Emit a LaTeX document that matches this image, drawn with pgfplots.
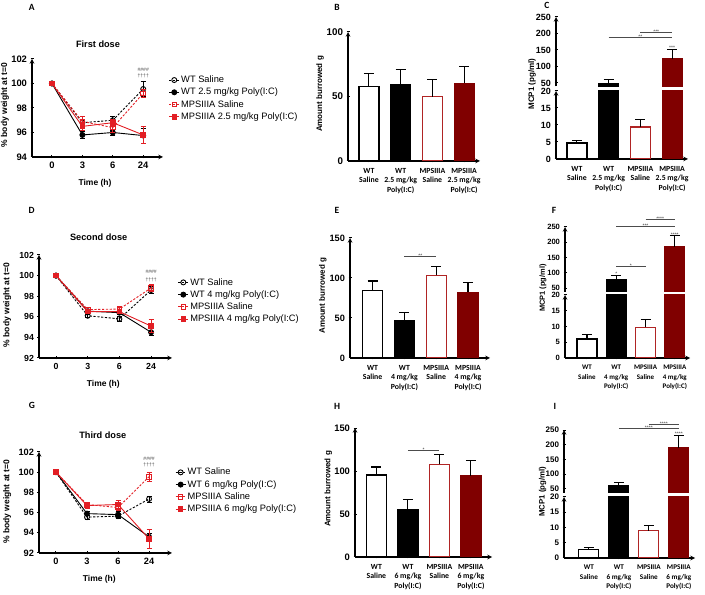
\documentclass[border=0pt]{standalone}
\usepackage{fontspec}
\setmainfont{Liberation Sans}
\newfontfamily\calfont{Carlito}
\usepackage{pgfplots}
\pgfplotsset{compat=1.18}

\definecolor{linered}{RGB}{226,30,36}
\definecolor{mpsdark}{RGB}{128,0,0}
\definecolor{mpsedge}{RGB}{176,36,36}

\pgfplotsset{
  base/.style={
    scale only axis, anchor=south west, clip mode=individual,
    axis line style={-, line width=1.1pt, black},
    tick style={line width=1pt, black},
    tick align=outside, major tick length=3pt,
    tick label style={font=\fontsize{9}{10}\selectfont\bfseries},
    /pgf/number format/assume math mode=true,
    enlargelimits=false,
  },
  tickfont/.style={tick label style={font=\fontsize{#1}{10}\selectfont\bfseries}},
  catfont/.style={xticklabel style={font=\calfont\bfseries\fontsize{#1}{9.6}\selectfont}},
  course/.style={base, axis lines=left,
    xtick={0,1,2,3}, xticklabels={0,3,6,24}, ytick distance=2,
    legend cell align=left,
    legend style={draw=none, fill=none, anchor=north west,
      font=\fontsize{9.3}{10}\selectfont, row sep=1.0pt,
      nodes={inner sep=1.5pt}},
    legend image code/.code={\draw[mark repeat=2, mark phase=2]
      plot coordinates {(0pt,0pt) (5pt,0pt) (10pt,0pt)};},
  },
  grp/.style={base, ybar, bar width=20pt, bar shift=0pt,
    xtick={1,2,3,4},
    xticklabel style={align=center, yshift=-2pt,
      font=\calfont\bfseries\fontsize{7.8}{9.6}\selectfont},
  },
  grplow/.style={grp, axis lines=left},
  grpup/.style={grp, axis y line=left, axis x line=none, xtick=\empty},
  lineerr/.style={/pgfplots/error bars/y dir=both, /pgfplots/error bars/y explicit,
    /pgfplots/error bars/error bar style={solid, line width=0.8pt},
    /pgfplots/error bars/error mark options={rotate=90, mark size=2.5pt, solid, line width=0.8pt}},
  barerr/.style={/pgfplots/error bars/y dir=plus, /pgfplots/error bars/y explicit,
    /pgfplots/error bars/error bar style={line width=1.1pt, black},
    /pgfplots/error bars/error mark options={rotate=90, mark size=5pt, line width=1.1pt, black}},
  wtsal/.style={black, line width=0.9pt, dash pattern=on 2.2pt off 1.6pt,
    mark=o, mark size=2.5pt, mark options={solid, fill=white}, lineerr},
  wtdose/.style={black, line width=0.9pt, mark=*, mark size=2.5pt, lineerr},
  mpssal/.style={linered, line width=0.9pt, dash pattern=on 2.2pt off 1.6pt,
    mark=square, mark size=2.3pt, mark options={solid, fill=white}, lineerr},
  mpsdose/.style={linered, line width=0.9pt, mark=square*, mark size=2.3pt, lineerr},
  bwt/.style={fill=white, draw=black, line width=1.2pt, barerr},
  bwtd/.style={fill=black, draw=black, line width=1.2pt, barerr},
  bms/.style={fill=white, draw=mpsedge, line width=1.2pt, barerr},
  bmsd/.style={fill=mpsdark, draw=mpsdark, line width=1.2pt, barerr},
}
\tikzset{
  sig/.style={font=\fontsize{5}{5}\selectfont, anchor=base, yshift=-1.2pt, inner sep=0pt, black!80},
  lab/.style={font=\fontsize{5}{5}\selectfont, anchor=base, yshift=-3pt, inner sep=0pt, black!80},
  bar line/.style={line width=0.6pt, black!70},
  hash/.style={font=\fontsize{5}{5}\selectfont, inner sep=0pt, black!70},
  letter/.style={font=\calfont\bfseries\fontsize{9.5}{10}\selectfont},
  atitle/.style={font=\fontsize{9.2}{10}\selectfont\bfseries},
  alabel/.style={font=\fontsize{8.5}{10}\selectfont\bfseries},
}

\begin{document}
\begin{tikzpicture}
\path[use as bounding box] (0pt,0pt) rectangle (705pt,595pt);

% ---------- Body weight, first dose ----------
\begin{axis}[course, tickfont=9.4, at={(32pt,438pt)}, width=131pt, height=98pt,
  xmin=-0.656, xmax=3.65, ymin=94, ymax=102,
  legend style={at={(1.02,0.865)}}]
\addplot[wtsal] coordinates {(0,100) +- (0,0) (1,96.8) +- (0,0.25) (2,97.0) +- (0,0.35) (3,99.55) +- (0,0.6)};
\addlegendentry{WT Saline}
\addplot[wtdose] coordinates {(0,100) +- (0,0) (1,95.8) +- (0,0.3) (2,96.0) +- (0,0.2) (3,95.75) +- (0,0.6)};
\addlegendentry{WT 2.5 mg/kg Poly(I:C)}
\addplot[mpssal] coordinates {(0,100) +- (0,0) (1,96.9) +- (0,0.4) (2,96.4) +- (0,0.4) (3,99.2) +- (0,0.35)};
\addlegendentry{MPSIIIA Saline}
\addplot[mpsdose] coordinates {(0,100) +- (0,0) (1,96.5) +- (0,0.35) (2,96.8) +- (0,0.3) (3,95.8) +- (0,0.7)};
\addlegendentry{MPSIIIA 2.5 mg/kg Poly(I:C)}
\node[hash] at (axis cs:3,101.15) {\#\#\#\#};
\node[hash] at (axis cs:3,100.65) {\textdagger\textdagger\textdagger\textdagger};
\end{axis}

% ---------- Body weight, second dose ----------
\begin{axis}[course, tickfont=8.8, at={(39pt,237pt)}, width=133pt, height=103pt,
  xmin=-0.537, xmax=3.66, ymin=92, ymax=102,
  legend style={at={(1.02,0.81)}}]
\addplot[wtsal] coordinates {(0,100) +- (0,0) (1,96.1) +- (0,0.15) (2,95.8) +- (0,0.2) (3,98.6) +- (0,0.35)};
\addlegendentry{WT Saline}
\addplot[wtdose] coordinates {(0,100) +- (0,0) (1,96.55) +- (0,0.2) (2,96.4) +- (0,0.2) (3,94.5) +- (0,0.35)};
\addlegendentry{WT 4 mg/kg Poly(I:C)}
\addplot[mpssal] coordinates {(0,100) +- (0,0) (1,96.7) +- (0,0.2) (2,96.75) +- (0,0.15) (3,98.8) +- (0,0.3)};
\addlegendentry{MPSIIIA Saline}
\addplot[mpsdose] coordinates {(0,100) +- (0,0) (1,96.5) +- (0,0.2) (2,96.5) +- (0,0.2) (3,95.1) +- (0,0.6)};
\addlegendentry{MPSIIIA 4 mg/kg Poly(I:C)}
\node[hash] at (axis cs:3,100.4) {\#\#\#\#};
\node[hash] at (axis cs:3,99.55) {\textdagger\textdagger\textdagger\textdagger};
\end{axis}

% ---------- Body weight, third dose ----------
\begin{axis}[course, tickfont=9.2, at={(39pt,42pt)}, width=133pt, height=101pt,
  xmin=-0.548, xmax=3.74, ymin=92, ymax=102,
  legend style={at={(1.0,0.876)}}]
\addplot[wtsal] coordinates {(0,100) +- (0,0) (1,95.55) +- (0,0.2) (2,95.65) +- (0,0.25) (3,97.35) +- (0,0.3)};
\addlegendentry{WT Saline}
\addplot[wtdose] coordinates {(0,100) +- (0,0) (1,95.9) +- (0,0.2) (2,95.8) +- (0,0.3) (3,93.6) +- (0,0.35)};
\addlegendentry{WT 6 mg/kg Poly(I:C)}
\addplot[mpssal] coordinates {(0,100) +- (0,0) (1,96.8) +- (0,0.2) (2,96.5) +- (0,0.25) (3,99.55) +- (0,0.45)};
\addlegendentry{MPSIIIA Saline}
\addplot[mpsdose] coordinates {(0,100) +- (0,0) (1,96.7) +- (0,0.25) (2,96.8) +- (0,0.4) (3,93.4) +- (0,0.9)};
\addlegendentry{MPSIIIA 6 mg/kg Poly(I:C)}
\node[hash] at (axis cs:3,101.3) {\#\#\#\#};
\node[hash] at (axis cs:3,100.7) {\textdagger\textdagger\textdagger\textdagger};
\end{axis}

% ---------- Burrowing, first dose ----------
\begin{axis}[grplow, tickfont=9.8, at={(348pt,434pt)}, width=132pt, height=129pt,
  xmin=0.34, xmax=4.5, ymin=0, ymax=100, ytick={0,50,100},
  xticklabels={{WT\\Saline},{WT\\2.5 mg/kg\\Poly(I:C)},{MPSIIIA\\Saline},{MPSIIIA\\2.5 mg/kg\\Poly(I:C)}}]
\addplot[bwt] coordinates {(1,57.7) +- (0,10.3)};
\addplot[bwtd] coordinates {(2,59.2) +- (0,11.4)};
\addplot[bms] coordinates {(3,49.9) +- (0,13.0)};
\addplot[bmsd] coordinates {(4,60.3) +- (0,12.9)};
\end{axis}

% ---------- Burrowing, second dose ----------
\begin{axis}[grplow, tickfont=9.2, at={(350pt,237pt)}, width=140pt, height=120pt,
  xmin=0.29, xmax=4.69, ymin=0, ymax=150, ytick={0,50,100,150},
  xticklabels={{WT\\Saline},{WT\\4 mg/kg\\Poly(I:C)},{MPSIIIA\\Saline},{MPSIIIA\\4 mg/kg\\Poly(I:C)}}]
\addplot[bwt] coordinates {(1,84.0) +- (0,12.3)};
\addplot[bwtd] coordinates {(2,47.3) +- (0,9.7)};
\addplot[bms] coordinates {(3,103.3) +- (0,10.7)};
\addplot[bmsd] coordinates {(4,82.0) +- (0,12.6)};
\draw[bar line] (axis cs:2,127) -- (axis cs:3,127);
\node[sig] at (axis cs:2.5,127) {**};
\end{axis}

% ---------- Burrowing, third dose ----------
\begin{axis}[grplow, tickfont=9.4, at={(355pt,38pt)}, width=137pt, height=129pt,
  xmin=0.32, xmax=4.67, ymin=0, ymax=150, ytick={0,50,100,150},
  xticklabels={{WT\\Saline},{WT\\6 mg/kg\\Poly(I:C)},{MPSIIIA\\Saline},{MPSIIIA\\6 mg/kg\\Poly(I:C)}}]
\addplot[bwt] coordinates {(1,95.3) +- (0,9.4)};
\addplot[bwtd] coordinates {(2,55.3) +- (0,12.0)};
\addplot[bms] coordinates {(3,107.8) +- (0,10.9)};
\addplot[bmsd] coordinates {(4,94.5) +- (0,17.2)};
\draw[bar line] (axis cs:2,124.5) -- (axis cs:3,124.5);
\node[sig] at (axis cs:2.5,124.5) {*};
\end{axis}

% ---------- MCP1, first dose (split axis) ----------
\begin{axis}[grplow, tickfont=9, at={(556pt,436pt)}, width=132pt, height=68pt,
  xmin=0.34, xmax=4.5, ymin=0, ymax=20, ytick={0,5,10,15,20},
  xticklabels={{WT\\Saline},{WT\\2.5 mg/kg\\Poly(I:C)},{MPSIIIA\\Saline},{MPSIIIA\\2.5 mg/kg\\Poly(I:C)}}]
\addplot[bwt] coordinates {(1,4.7) +- (0,0.8)};
\addplot[bwtd] coordinates {(2,47) +- (0,13)};
\addplot[bms] coordinates {(3,9.4) +- (0,2.3)};
\addplot[bmsd] coordinates {(4,123.7) +- (0,28)};
\end{axis}
\begin{axis}[grpup, tickfont=9, at={(556pt,508.7pt)}, width=132pt, height=69.3pt,
  xmin=0.34, xmax=4.5, ymin=40, ymax=250, ytick={50,100,150,200,250}]
\addplot[bwtd] coordinates {(2,47) +- (0,13)};
\addplot[bmsd] coordinates {(4,123.7) +- (0,28)};
\draw[bar line] (axis cs:2,188) -- (axis cs:4,188);
\node[sig] at (axis cs:3,188) {**};
\draw[bar line] (axis cs:3,205) -- (axis cs:4,205);
\node[sig] at (axis cs:3.5,205) {***};
\node[lab] at (axis cs:4,161) {***};
\end{axis}

% ---------- MCP1, second dose (split axis) ----------
\begin{axis}[grplow, tickfont=7.6, catfont=7, at={(565pt,237pt)}, width=125pt, height=63pt,
  xmin=0.25, xmax=4.52, ymin=0, ymax=20, ytick={0,5,10,15,20},
  xticklabels={{WT\\Saline},{WT\\4 mg/kg\\Poly(I:C)},{MPSIIIA\\Saline},{MPSIIIA\\4 mg/kg\\Poly(I:C)}}]
\addplot[bwt] coordinates {(1,6.0) +- (0,1.5)};
\addplot[bwtd] coordinates {(2,79) +- (0,13)};
\addplot[bms] coordinates {(3,9.8) +- (0,2.5)};
\addplot[bmsd] coordinates {(4,186) +- (0,37)};
\end{axis}
\begin{axis}[grpup, tickfont=7.6, at={(565pt,303pt)}, width=125pt, height=65pt,
  xmin=0.25, xmax=4.52, ymin=37, ymax=250, ytick={50,100,150,200,250}]
\addplot[bwtd] coordinates {(2,79) +- (0,13)};
\addplot[bmsd] coordinates {(4,186) +- (0,37)};
\draw[bar line] (axis cs:2,122) -- (axis cs:3,122);
\node[sig] at (axis cs:2.5,122) {*};
\draw[bar line] (axis cs:2,251) -- (axis cs:4,251);
\node[sig] at (axis cs:3,251) {***};
\draw[bar line] (axis cs:3,276) -- (axis cs:4,276);
\node[sig] at (axis cs:3.5,276) {****};
\node[lab] at (axis cs:2,101) {*};
\node[lab] at (axis cs:4,230) {****};
\end{axis}

% ---------- MCP1, third dose (split axis) ----------
\begin{axis}[grplow, tickfont=8, catfont=7.2, at={(564pt,37pt)}, width=131pt, height=61pt,
  xmin=0.17, xmax=4.54, ymin=0, ymax=20, ytick={0,5,10,15,20},
  xticklabels={{WT\\Saline},{WT\\6 mg/kg\\Poly(I:C)},{MPSIIIA\\Saline},{MPSIIIA\\6 mg/kg\\Poly(I:C)}}]
\addplot[bwt] coordinates {(1,2.8) +- (0,0.6)};
\addplot[bwtd] coordinates {(2,62) +- (0,11)};
\addplot[bms] coordinates {(3,8.9) +- (0,1.9)};
\addplot[bmsd] coordinates {(4,189) +- (0,42)};
\end{axis}
\begin{axis}[grpup, tickfont=8, at={(564pt,102.2pt)}, width=131pt, height=62.8pt,
  xmin=0.17, xmax=4.54, ymin=37, ymax=250, ytick={50,100,150,200,250}]
\addplot[bwtd] coordinates {(2,62) +- (0,11)};
\addplot[bmsd] coordinates {(4,189) +- (0,42)};
\draw[bar line] (axis cs:2,256) -- (axis cs:4,256);
\node[sig] at (axis cs:3,256) {****};
\draw[bar line] (axis cs:3,270) -- (axis cs:4,270);
\node[sig] at (axis cs:3.5,270) {****};
\node[lab] at (axis cs:4,241) {****};
\end{axis}

% ---------- panel letters, titles and axis labels ----------
\node[letter] at (31.7pt,588pt) {A};
\node[letter] at (337pt,588pt) {B};
\node[letter] at (547pt,590pt) {C};
\node[letter] at (31.5pt,385pt) {D};
\node[letter] at (337pt,385pt) {E};
\node[letter] at (554pt,385pt) {F};
\node[letter] at (32pt,190pt) {G};
\node[letter] at (337pt,189pt) {H};
\node[letter] at (555pt,189pt) {I};

\node[atitle] at (98pt,551pt) {First dose};
\node[atitle] at (98.7pt,357.3pt) {Second dose};
\node[atitle] at (102.8pt,160pt) {Third dose};

\node[alabel] at (95pt,411.7pt) {Time (h)};
\node[alabel] at (103.3pt,210.7pt) {Time (h)};
\node[alabel] at (99.3pt,16pt) {Time (h)};

\node[alabel, rotate=90] at (5pt,490pt) {\% body weight at t=0};
\node[alabel, rotate=90] at (7.3pt,290pt) {\% body weight at t=0};
\node[alabel, rotate=90] at (7.3pt,93.3pt) {\% body weight at t=0};

\node[alabel, font=\fontsize{8}{10}\selectfont\bfseries, rotate=90] at (320pt,501pt) {Amount burrowed g};
\node[alabel, font=\fontsize{8}{10}\selectfont\bfseries, rotate=90] at (322.7pt,299.3pt) {Amount burrowed g};
\node[alabel, font=\fontsize{8}{10}\selectfont\bfseries, rotate=90] at (328.3pt,106pt) {Amount burrowed g};

\node[alabel, font=\fontsize{8}{10}\selectfont\bfseries, rotate=90] at (532pt,511pt) {MCP1 (pg/ml)};
\node[alabel, font=\fontsize{7.4}{10}\selectfont\bfseries, rotate=90] at (543pt,307pt) {MCP1 (pg/ml)};
\node[alabel, font=\fontsize{7.8}{10}\selectfont\bfseries, rotate=90] at (542.5pt,103.3pt) {MCP1 (pg/ml)};
\end{tikzpicture}
\end{document}
